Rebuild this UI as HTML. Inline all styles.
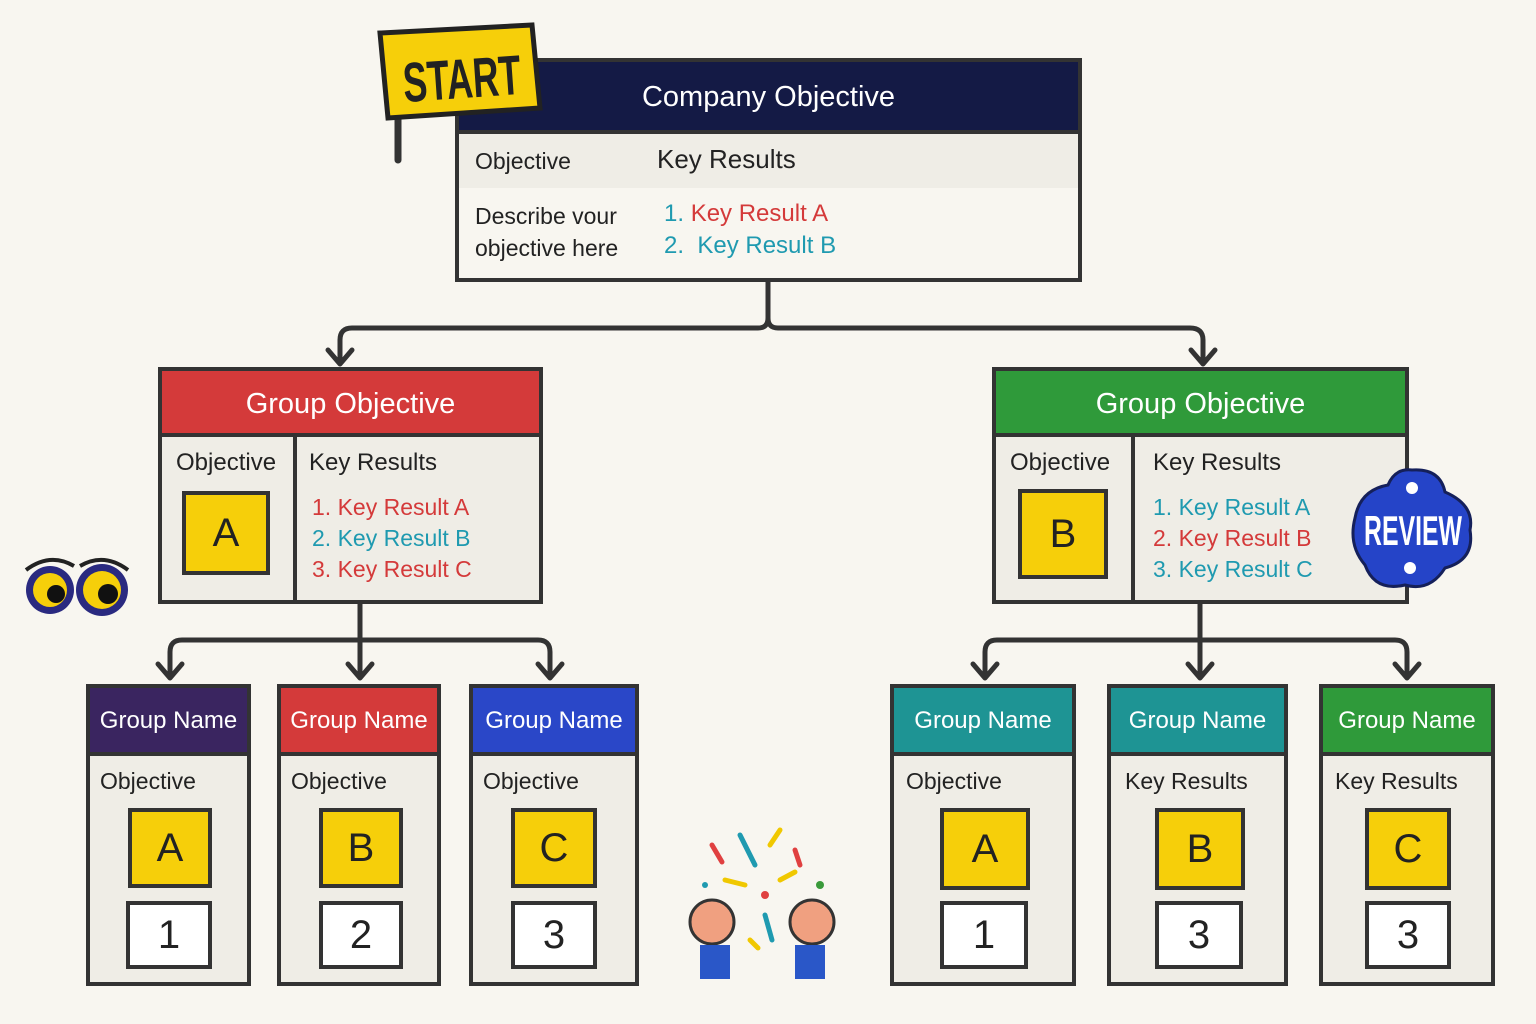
<!DOCTYPE html>
<html><head><meta charset="utf-8"><style>
body{margin:0;width:1536px;height:1024px;background:#f8f6f0;position:relative;overflow:hidden;font-family:"Liberation Sans",sans-serif;color:#222}
.box{position:absolute;border:4px solid #333;background:#efede6;box-sizing:border-box}
.hd{position:absolute;left:0;right:0;top:0;color:#fff;text-align:center;border-bottom:4px solid #333;box-sizing:border-box}
.t{position:absolute;white-space:nowrap}
.y{position:absolute;background:#f6cf0a;border:4px solid #333;box-sizing:border-box;text-align:center;font-size:40px;color:#222}
.w{position:absolute;background:#fff;border:4px solid #333;box-sizing:border-box;text-align:center;font-size:40px;color:#222}
.r{color:#d43a3a}.c{color:#1f9ab0}
svg{position:absolute;left:0;top:0}
</style></head><body>
<svg width="1536" height="1024">
<g fill="none" stroke="#333" stroke-width="5" stroke-linecap="round" stroke-linejoin="round">
<path d="M768 282 V318 Q768 328 758 328 H352 Q340 328 340 340 V362"/>
<path d="M768 318 Q768 328 778 328 H1190 Q1203 328 1203 340 V362"/>
<path d="M328 350 L340 364 L352 350 M1191 350 L1203 364 L1215 350"/>
<path d="M360 603 V640 M170 676 V652 Q170 640 182 640 H538 Q550 640 550 652 V676 M360 640 V676"/>
<path d="M158 664 L170 678 L182 664 M348 664 L360 678 L372 664 M538 664 L550 678 L562 664"/>
<path d="M1200 603 V640 M985 676 V652 Q985 640 997 640 H1395 Q1407 640 1407 652 V676 M1200 640 V676"/>
<path d="M973 664 L985 678 L997 664 M1188 664 L1200 678 L1212 664 M1395 664 L1407 678 L1419 664"/>
</g>
<g>
<circle cx="50" cy="590" r="24" fill="#2a2a80"/><circle cx="50" cy="590" r="17" fill="#f6cf0a"/><circle cx="56" cy="594" r="9" fill="#111"/>
<circle cx="102" cy="590" r="26" fill="#2a2a80"/><circle cx="102" cy="590" r="19" fill="#f6cf0a"/><circle cx="108" cy="594" r="10" fill="#111"/>
<path d="M26 570 Q50 552 74 566 M80 566 Q104 552 128 570" stroke="#222" stroke-width="4" fill="none"/>
</g>
<g stroke-width="5" stroke-linecap="round">
<path d="M740 835 L755 865" stroke="#1f9ab0"/><path d="M712 845 L722 862" stroke="#e04040"/><path d="M770 845 L780 830" stroke="#f0c800"/><path d="M795 850 L800 865" stroke="#e04040"/>
<path d="M725 880 L745 885" stroke="#f0c800"/><path d="M780 880 L795 872" stroke="#f0c800"/><path d="M765 915 L772 940" stroke="#1f9ab0"/><path d="M750 940 L758 948" stroke="#f0c800"/>
<circle cx="765" cy="895" r="4" fill="#e04040" stroke="none"/><circle cx="820" cy="885" r="4" fill="#3a9a3a" stroke="none"/><circle cx="705" cy="885" r="3" fill="#1f9ab0" stroke="none"/>
<circle cx="712" cy="922" r="22" fill="#f0a080" stroke="#333" stroke-width="3"/><circle cx="812" cy="922" r="22" fill="#f0a080" stroke="#333" stroke-width="3"/>
<rect x="700" y="945" width="30" height="34" fill="#2a57c8" stroke="none"/><rect x="795" y="945" width="30" height="34" fill="#2a57c8" stroke="none"/>
</g>
</svg>

<div class="box" style="left:455px;top:58px;width:627px;height:224px">
 <div class="hd" style="height:72px;line-height:70px;font-size:29px;background:#141a45">Company Objective</div>
 <div style="position:absolute;left:0;right:0;top:72px;height:54px;border-bottom:4px solid #333;background:#efede6"></div>
 <div class="t" style="left:16px;top:86px;font-size:23px">Objective</div>
 <div class="t" style="left:198px;top:82px;font-size:26px">Key Results</div>
 <div style="position:absolute;left:0;right:0;top:126px;bottom:0;background:#f8f6f0"></div>
 <div class="t" style="left:16px;top:138px;font-size:23px;line-height:32px">Describe vour<br>objective here</div>
 <div class="t" style="left:205px;top:136px;font-size:24px;line-height:32px"><span class="c">1.</span> <span class="r">Key Result A</span><br><span class="c">2.&nbsp; Key Result B</span></div>
</div>

<div class="box" style="left:158px;top:367px;width:385px;height:237px">
 <div class="hd" style="height:66px;line-height:66px;font-size:29px;background:#d43a3a">Group Objective</div>
 <div style="position:absolute;left:131px;top:66px;bottom:0;border-left:4px solid #333"></div>
 <div class="t" style="left:14px;top:78px;font-size:24px">Objective</div>
 <div class="y" style="left:20px;top:120px;width:88px;height:84px;line-height:76px">A</div>
 <div class="t" style="left:147px;top:78px;font-size:24px">Key Results</div>
 <div class="t" style="left:150px;top:121px;font-size:23px;line-height:31px"><span class="r">1. Key Result A</span><br><span class="c">2. Key Result B</span><br><span class="r">3. Key Result C</span></div>
</div>

<div class="box" style="left:992px;top:367px;width:417px;height:237px">
 <div class="hd" style="height:66px;line-height:66px;font-size:29px;background:#2f9a3a">Group Objective</div>
 <div style="position:absolute;left:135px;top:66px;bottom:0;border-left:4px solid #333"></div>
 <div class="t" style="left:14px;top:78px;font-size:24px">Objective</div>
 <div class="y" style="left:22px;top:118px;width:90px;height:90px;line-height:82px">B</div>
 <div class="t" style="left:157px;top:78px;font-size:24px">Key Results</div>
 <div class="t" style="left:157px;top:121px;font-size:23px;line-height:31px"><span class="c">1. Key Result A</span><br><span class="r">2. Key Result B</span><br><span class="c">3. Key Result C</span></div>
</div>

<div class="box" style="left:86px;top:684px;width:165px;height:302px"><div class="hd" style="height:68px;line-height:66px;font-size:24px;background:#3a2560">Group Name</div><div class="t" style="left:10px;top:80px;font-size:23px">Objective</div><div class="y" style="left:38px;top:120px;width:84px;height:80px;line-height:72px">A</div><div class="w" style="left:36px;top:213px;width:86px;height:68px;line-height:60px">1</div></div>
<div class="box" style="left:277px;top:684px;width:164px;height:302px"><div class="hd" style="height:68px;line-height:66px;font-size:24px;background:#d43a3a">Group Name</div><div class="t" style="left:10px;top:80px;font-size:23px">Objective</div><div class="y" style="left:38px;top:120px;width:84px;height:80px;line-height:72px">B</div><div class="w" style="left:38px;top:213px;width:84px;height:68px;line-height:60px">2</div></div>
<div class="box" style="left:469px;top:684px;width:170px;height:302px"><div class="hd" style="height:68px;line-height:66px;font-size:24px;background:#2a47c8">Group Name</div><div class="t" style="left:10px;top:80px;font-size:23px">Objective</div><div class="y" style="left:38px;top:120px;width:86px;height:80px;line-height:72px">C</div><div class="w" style="left:38px;top:213px;width:86px;height:68px;line-height:60px">3</div></div>

<div class="box" style="left:890px;top:684px;width:186px;height:302px"><div class="hd" style="height:68px;line-height:66px;font-size:24px;background:#1e9494">Group Name</div><div class="t" style="left:12px;top:80px;font-size:23px">Objective</div><div class="y" style="left:46px;top:120px;width:90px;height:82px;line-height:74px">A</div><div class="w" style="left:46px;top:213px;width:88px;height:68px;line-height:60px">1</div></div>
<div class="box" style="left:1107px;top:684px;width:181px;height:302px"><div class="hd" style="height:68px;line-height:66px;font-size:24px;background:#1e9494">Group Name</div><div class="t" style="left:14px;top:80px;font-size:23px">Key Results</div><div class="y" style="left:44px;top:120px;width:90px;height:82px;line-height:74px">B</div><div class="w" style="left:44px;top:213px;width:88px;height:68px;line-height:60px">3</div></div>
<div class="box" style="left:1319px;top:684px;width:176px;height:302px"><div class="hd" style="height:68px;line-height:66px;font-size:24px;background:#2f9a3a">Group Name</div><div class="t" style="left:12px;top:80px;font-size:23px">Key Results</div><div class="y" style="left:42px;top:120px;width:86px;height:82px;line-height:74px">C</div><div class="w" style="left:42px;top:213px;width:86px;height:68px;line-height:60px">3</div></div>

<svg width="1536" height="1024">
<g>
<path d="M398 60 V160" stroke="#333" stroke-width="7" stroke-linecap="round"/>
<polygon points="380,33 532,25 540,108 388,118" fill="#f6cf0a" stroke="#222" stroke-width="5"/>
<text x="462" y="98" font-weight="bold" font-size="56" text-anchor="middle" fill="#222" textLength="118" lengthAdjust="spacingAndGlyphs" transform="rotate(-4 462 80)">START</text>
</g>
<g>
<path d="M1412 470 Q1440 468 1445 492 Q1475 505 1470 530 Q1475 560 1445 568 Q1430 592 1405 585 Q1375 592 1365 565 Q1348 545 1355 518 Q1360 490 1388 485 Q1395 468 1412 470Z" fill="#2544c8" stroke="#15205a" stroke-width="3"/>
<circle cx="1412" cy="488" r="6" fill="#fff"/><circle cx="1410" cy="568" r="6" fill="#fff"/>
<text x="1413" y="545" font-weight="bold" font-size="42" text-anchor="middle" fill="#fff" textLength="98" lengthAdjust="spacingAndGlyphs">REVIEW</text>
</g>
</svg>
</body></html>
